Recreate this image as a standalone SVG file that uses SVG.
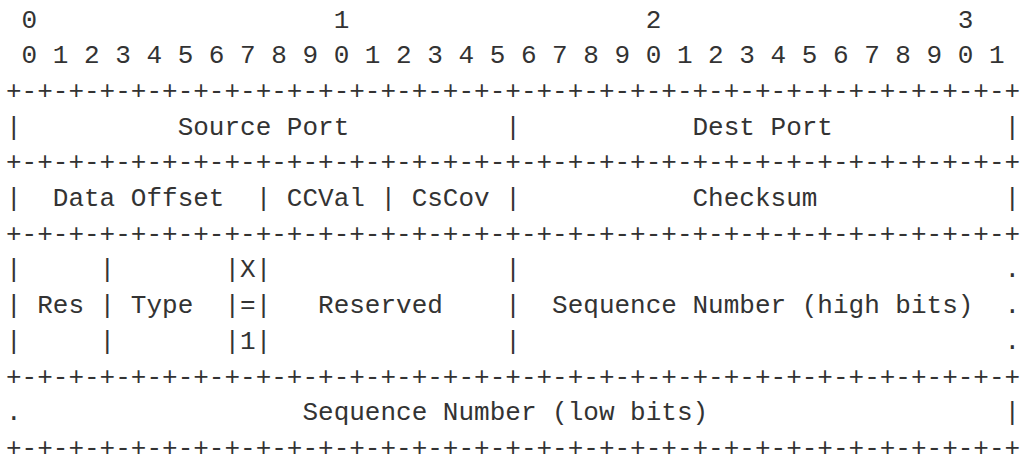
<svg xmlns="http://www.w3.org/2000/svg" width="1022" height="456" viewBox="0 0 1022 456">
<style>
text{font-family:"Liberation Mono","DejaVu Sans Mono",monospace;font-size:26px;fill:#333;white-space:pre}
</style>
<rect width="1022" height="456" fill="#fff"/>
<g id="ruler">
<text x="6" y="27.5" xml:space="preserve"> 0                   1                   2                   3</text>
<text x="6" y="63.2" xml:space="preserve"> 0 1 2 3 4 5 6 7 8 9 0 1 2 3 4 5 6 7 8 9 0 1 2 3 4 5 6 7 8 9 0 1</text>
</g>
<g id="connectors">
<text x="6" y="98.9" xml:space="preserve">+-+-+-+-+-+-+-+-+-+-+-+-+-+-+-+-+-+-+-+-+-+-+-+-+-+-+-+-+-+-+-+-+</text>
<text x="6" y="170.3" xml:space="preserve">+-+-+-+-+-+-+-+-+-+-+-+-+-+-+-+-+-+-+-+-+-+-+-+-+-+-+-+-+-+-+-+-+</text>
<text x="6" y="241.7" xml:space="preserve">+-+-+-+-+-+-+-+-+-+-+-+-+-+-+-+-+-+-+-+-+-+-+-+-+-+-+-+-+-+-+-+-+</text>
<text x="6" y="384.5" xml:space="preserve">+-+-+-+-+-+-+-+-+-+-+-+-+-+-+-+-+-+-+-+-+-+-+-+-+-+-+-+-+-+-+-+-+</text>
<text x="6" y="455.9" xml:space="preserve">+-+-+-+-+-+-+-+-+-+-+-+-+-+-+-+-+-+-+-+-+-+-+-+-+-+-+-+-+-+-+-+-+</text>
</g>
<g id="row-ports">
<text x="6" y="134.6" xml:space="preserve">|          Source Port          |           Dest Port           |</text>
</g>
<g id="row-offset">
<text x="6" y="206" xml:space="preserve">|  Data Offset  | CCVal | CsCov |           Checksum            |</text>
</g>
<g id="row-type">
<text x="6" y="277.4" xml:space="preserve">|     |       |X|               |                               .</text>
<text x="6" y="313.1" xml:space="preserve">| Res | Type  |=|   Reserved    |  Sequence Number (high bits)  .</text>
<text x="6" y="348.8" xml:space="preserve">|     |       |1|               |                               .</text>
</g>
<g id="row-seq-low">
<text x="6" y="420.2" xml:space="preserve">.                  Sequence Number (low bits)                   |</text>
</g>
</svg>
